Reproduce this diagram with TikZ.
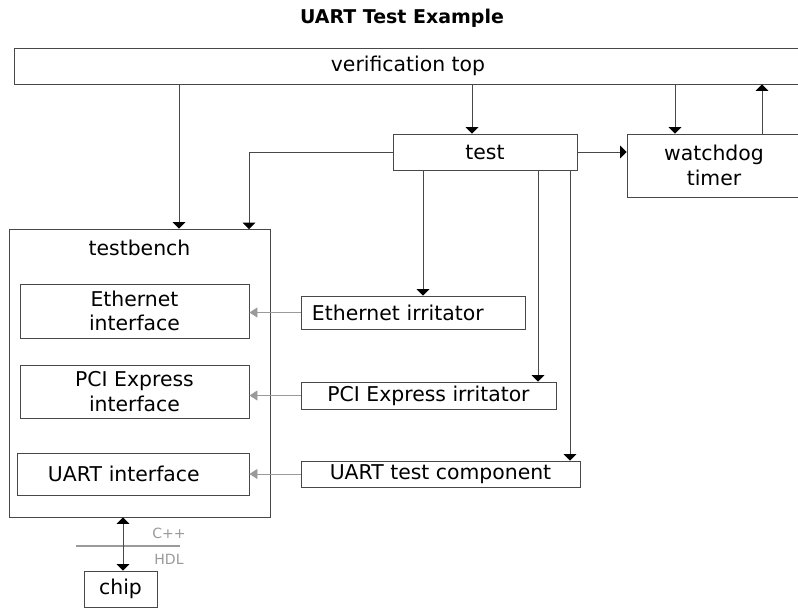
\documentclass[tikz,border=0pt]{standalone}
\usepackage{fontspec}
\setmainfont{DejaVu Sans}
\usetikzlibrary{arrows.meta}
\definecolor{lineGray}{HTML}{484848}
\definecolor{lightGray}{HTML}{9A9A9A}
\tikzset{
blk/.style = {rectangle, draw=lineGray, line width=0.6pt, minimum width=#1,
              inner sep=0pt, align=center, font=\fontsize{14.5}{17.5}\selectfont},
blk/.default = 4cm % width of the block
}
\tikzset{
arr/.style = {draw=lineGray, line width=0.6pt, -{Triangle[width=0.32cm, length=0.16cm, color=black]}},
darr/.style = {draw=lineGray, line width=0.6pt, {Triangle[width=0.32cm, length=0.16cm, color=black]}-{Triangle[width=0.32cm, length=0.16cm, color=black]}},
garr/.style = {draw=lightGray, line width=0.6pt, -{Triangle[width=0.25cm, length=0.2cm]}}
}

\begin{document}
\begin{tikzpicture}[x=0.025cm, y=-0.025cm]
    \useasboundingbox (0,0) rectangle (798,608);
    \clip (0,0) rectangle (798,608);

    \node[font=\fontsize{13.5}{16}\selectfont\bfseries] (title) at (402,18) {UART Test Example};

    \node[blk=19.65cm, minimum height=0.9cm] (vtop) at (408,66) {verification top};
    \node[blk=4.6cm, minimum height=0.9cm] (test) at (485,152) {test};
    \node[blk=4.35cm, minimum height=1.575cm] (wdog) at (714,165.5) {watchdog\\timer};

    \node[blk=6.525cm, minimum height=7.2cm] (tb) at (139.5,373) {};
    \node[font=\fontsize{14.5}{17.5}\selectfont] (tbName) at (139.5,248) {testbench};
    \node[blk=5.725cm, minimum height=1.35cm] (ethIf) at (134.5,311) {Ethernet\\interface};
    \node[blk=5.725cm, minimum height=1.325cm] (pciIf) at (134.5,391.5) {PCI Express\\interface};
    \node[blk=5.8cm, minimum height=1.05cm, text width=5.35cm, align=left] (uartIf) at (133,474) {\hspace{0.55cm}UART interface};

    \node[blk=5.6cm, minimum height=0.825cm, text width=5.05cm, align=left] (ethIrr) at (413,312.5) {Ethernet irritator};
    \node[blk=6.375cm, minimum height=0.675cm] (pciIrr) at (428.5,395.5) {PCI Express irritator};
    \node[blk=6.975cm, minimum height=0.65cm] (uartComp) at (440.5,474) {UART test component};

    \node[blk=1.825cm, minimum height=0.9cm] (chip) at (120.5,589) {chip};

    \coordinate (xTb) at (179,0);
    \coordinate (xTest) at (472,0);
    \coordinate (xWdIn) at (675,0);
    \coordinate (xWdOut) at (762,0);
    \coordinate (tbIn) at (249,229);
    \coordinate (xEth) at (423,0);
    \coordinate (xPci) at (538,0);
    \coordinate (xUart) at (570,0);
    \coordinate (xChip) at (123,0);

    \draw[arr] (vtop.south -| xTb) -- (tb.north -| xTb);
    \draw[arr] (vtop.south -| xTest) -- (test.north -| xTest);
    \draw[arr] (vtop.south -| xWdIn) -- (wdog.north -| xWdIn);
    \draw[arr] (wdog.north -| xWdOut) -- (vtop.south -| xWdOut);

    \draw[arr] (test.west) -| (tbIn);
    \draw[arr] (test.east) -- (wdog.west |- test.east);
    \draw[arr] (test.south -| xEth) -- (ethIrr.north -| xEth);
    \draw[arr] (test.south -| xPci) -- (pciIrr.north -| xPci);
    \draw[arr] (test.south -| xUart) -- (uartComp.north -| xUart);

    \draw[garr] (ethIrr.west) -- (ethIrr.west -| ethIf.east);
    \draw[garr] (pciIrr.west) -- (pciIrr.west -| pciIf.east);
    \draw[garr] (uartComp.west) -- (uartComp.west -| uartIf.east);

    % C++ / HDL boundary
    \coordinate (bndL) at (76,546);
    \coordinate (bndR) at (180,546);
    \draw[lightGray, line width=0.8pt] (bndL) -- (bndR);
    \node[lightGray, font=\fontsize{10}{12}\selectfont] (cpp) at (169,533) {C++};
    \node[lightGray, font=\fontsize{10}{12}\selectfont] (hdl) at (169,559) {HDL};
    \draw[darr] (tb.south -| xChip) -- (chip.north -| xChip);

\end{tikzpicture}
\end{document}
